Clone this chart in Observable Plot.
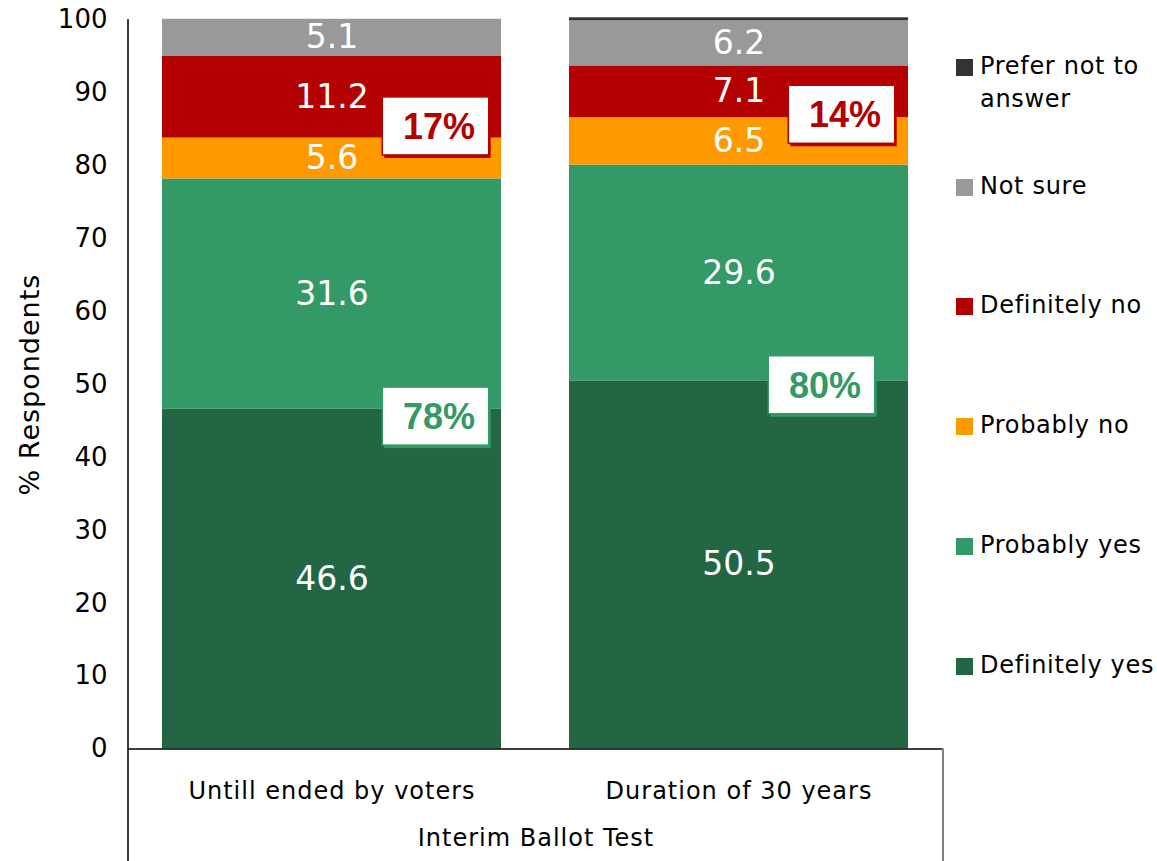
<!DOCTYPE html>
<html>
<head>
<meta charset="utf-8">
<script src="https://cdn.jsdelivr.net/npm/d3@7"></script>
<script src="https://cdn.jsdelivr.net/npm/@observablehq/plot@0.6"></script>
<style>
  html, body { margin: 0; padding: 0; background: #fff; }
  #wrap { position: relative; width: 1157px; height: 861px; font-family: "DejaVu Sans", sans-serif; }
  #legend { position: absolute; left: 956px; top: 0; width: 201px; }
  .item { position: absolute; left: 0; width: 201px; }
  .sw { position: absolute; left: 0; width: 17px; height: 17px; }
  .lab { position: absolute; left: 24px; width: 177px; font-size: 24px; line-height: 33px; letter-spacing: 0.7px; color: #000; }
</style>
</head>
<body>
<div id="wrap"><div id="legend"></div></div>
<script>
// ---- data ----
const categories = ["Untill ended by voters", "Duration of 30 years"];
const responses = ["Definitely yes", "Probably yes", "Probably no", "Definitely no", "Not sure", "Prefer not to answer"];
const untilEndedValues = [46.6, 31.6, 5.6, 11.2, 5.1, 0];
const duration30Values = [50.5, 29.6, 6.5, 7.1, 6.2, 0.4];
const colors = ["#226644", "#339966", "#FF9900", "#B30000", "#999999", "#333333"];
const yTicks = [0, 10, 20, 30, 40, 50, 60, 70, 80, 90, 100];
const xTitle = "Interim Ballot Test";
const yTitle = "% Respondents";
// net callouts: category, text, value level
const calloutCats = ["Untill ended by voters", "Untill ended by voters", "Duration of 30 years", "Duration of 30 years"];
const calloutTexts = ["17%", "78%", "14%", "80%"];
const calloutLevels = [85.4, 45.6, 87.0, 49.9];
const calloutColors = ["#B30000", "#339966", "#B30000", "#339966"];

// ---- build table ----
const rows = [];
[untilEndedValues, duration30Values].forEach((vals, ci) => {
  vals.forEach((v, ri) => rows.push({category: categories[ci], response: responses[ri], value: v}));
});
const callouts = calloutTexts.map((t, i) => ({category: calloutCats[i], text: t, level: calloutLevels[i], color: calloutColors[i]}));

// ---- layout ----
const W = 1157, H = 861, mL = 128, mR = 214, mT = 19.5, mB = 112.5;
const step = (W - mL - mR) / 2;
const bw = step * (1 - 1/6);
const boxW = 107, boxHalf = 3.98;
const calloutDx = [104, 104, 103, 83];

const calloutMarks = [];
callouts.forEach((c, i) => {
  const dx = calloutDx[i];
  const inL = bw / 2 + dx - boxW / 2, inR = bw / 2 - dx - boxW / 2;
  calloutMarks.push(Plot.barY([c], {x: "category", y1: d => d.level - boxHalf, y2: d => d.level + boxHalf,
    insetLeft: inL, insetRight: inR, fill: c.color, dx: 2, dy: 3}));
  calloutMarks.push(Plot.barY([c], {x: "category", y1: d => d.level - boxHalf, y2: d => d.level + boxHalf,
    insetLeft: inL, insetRight: inR, fill: "white", stroke: c.color, strokeWidth: 1.5}));
  calloutMarks.push(Plot.text([c], {x: "category", y: "level", text: "text", dx: dx + 3, dy: 1,
    fill: c.color, fontSize: 36, fontWeight: "bold", fontFamily: "Liberation Sans"}));
});

const plot = Plot.plot({
  width: W, height: H,
  marginLeft: mL, marginRight: mR, marginTop: mT, marginBottom: mB,
  style: {fontFamily: "DejaVu Sans", background: "white", color: "#000", overflow: "visible"},
  x: {domain: categories, paddingInner: 1/6, paddingOuter: 1/12, label: null},
  y: {domain: [0, 100], label: null},
  color: {domain: responses, range: colors},
  marks: [
    Plot.barY(rows, {x: "category", y: "value", fill: "response", z: "response", order: responses}),
    Plot.text(rows.filter(d => d.response !== "Prefer not to answer"),
      Plot.stackY({x: "category", y: "value", z: "response", order: responses, text: d => d.value.toFixed(1),
        fill: "white", fontSize: 33})),
    ...calloutMarks,
    Plot.axisY({ticks: yTicks, tickSize: 0, tickPadding: 21, fontSize: 26, label: null}),
    Plot.axisX({tickSize: 0, tickPadding: 33, fontSize: 24, label: null}),
    Plot.ruleY([0], {stroke: "#000", strokeWidth: 1.5}),
    Plot.text([yTitle], {frameAnchor: "left", textAnchor: "middle", dx: -98, rotate: -90, fontSize: 27, text: d => d}),
    Plot.text([xTitle], {frameAnchor: "bottom", textAnchor: "middle", dy: 97, fontSize: 24, text: d => d})
  ]
});

const svg = d3.select(plot);
svg.selectAll("g[aria-label='x-axis tick label'] text").style("letter-spacing", "1px");
svg.selectAll("text").filter(function() { return this.textContent === xTitle || this.textContent === yTitle; })
  .style("letter-spacing", "1px");

// frame lines (axis box)
const ys = plot.scale("y");
const xLeft = mL, xRight = W - mR;
svg.append("line").attr("x1", xLeft).attr("x2", xLeft).attr("y1", ys.apply(100) - 0.5).attr("y2", H)
  .attr("stroke", "#000").attr("stroke-width", 1.5);
svg.append("line").attr("x1", xRight).attr("x2", xRight).attr("y1", ys.apply(0)).attr("y2", H)
  .attr("stroke", "#808080").attr("stroke-width", 2);

document.getElementById("wrap").prepend(plot);
plot.style.position = "absolute"; plot.style.left = "0"; plot.style.top = "0";

// ---- legend ----
const legendTops = {"Prefer not to answer": 50, "Not sure": 170, "Definitely no": 289, "Probably no": 409, "Probably yes": 529, "Definitely yes": 649};
const legend = document.getElementById("legend");
responses.slice().reverse().forEach(r => {
  const it = document.createElement("div");
  it.className = "item";
  it.style.top = legendTops[r] + "px";
  const sw = document.createElement("div");
  sw.className = "sw"; sw.style.top = "9px"; sw.style.background = colors[responses.indexOf(r)];
  const lab = document.createElement("div");
  lab.className = "lab"; lab.textContent = r;
  it.appendChild(sw); it.appendChild(lab);
  legend.appendChild(it);
});
</script>
</body>
</html>
